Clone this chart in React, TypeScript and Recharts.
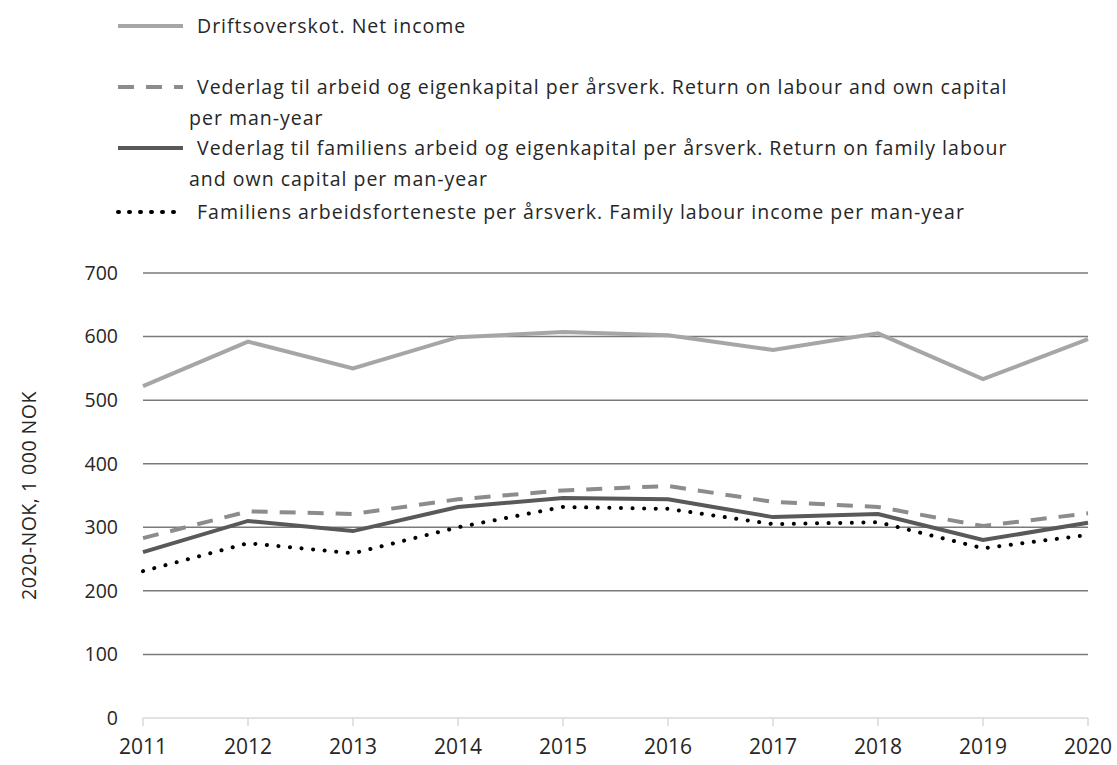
import { LineChart, Line, XAxis, YAxis, CartesianGrid, Label } from "recharts";

const years = ["2011", "2012", "2013", "2014", "2015", "2016", "2017", "2018", "2019", "2020"];
const netIncome = [522, 592, 550, 599, 607, 602, 579, 605, 533, 596];
const returnLabourCapital = [283, 325, 321, 344, 358, 365, 340, 332, 302, 322];
const returnFamilyLabour = [261, 310, 294, 332, 346, 344, 316, 321, 280, 307];
const familyLabourIncome = [231, 275, 259, 300, 332, 329, 305, 308, 267, 288];
const yTicks = [0, 100, 200, 300, 400, 500, 600, 700];

const data = years.map((year, i) => ({
  year,
  net: netIncome[i],
  ret: returnLabourCapital[i],
  fam: returnFamilyLabour[i],
  inc: familyLabourIncome[i],
}));

const FONT = "'Open Sans', sans-serif";
const TEXT = "#262626";

function LegendRow({ top, dash, color, children }: { top: number; dash?: string; color: string; children: React.ReactNode }) {
  return (
    <div style={{ position: "absolute", left: 115, top, display: "flex", alignItems: "flex-start" }}>
      <svg width={72} height={24} style={{ flex: "none" }}>
        <line x1={3} y1={12} x2={68} y2={12} stroke={color} strokeWidth={4}
          strokeDasharray={dash} strokeLinecap={dash === "1 10" ? "round" : "butt"} />
      </svg>
      <div style={{ marginLeft: 10, lineHeight: "31px", marginTop: -4, whiteSpace: "nowrap" }}>{children}</div>
    </div>
  );
}

export default function App() {
  return (
    <div style={{ position: "absolute", left: 0, top: 0, width: 1117, height: 765, background: "#fff", fontFamily: FONT, fontSize: 19.5, letterSpacing: 1, color: TEXT }}>
      <LegendRow top={14} color="#a6a6a6">Driftsoverskot. Net income</LegendRow>
      <LegendRow top={75} color="#8c8c8c" dash="16 12">
        Vederlag til arbeid og eigenkapital per årsverk. Return on labour and own capital<br />
        <span style={{ marginLeft: -8 }}>per man-year</span>
      </LegendRow>
      <LegendRow top={136} color="#595959">
        Vederlag til familiens arbeid og eigenkapital per årsverk. Return on family labour<br />
        <span style={{ marginLeft: -8 }}>and own capital per man-year</span>
      </LegendRow>
      <LegendRow top={200} color="#000" dash="1 10">
        Familiens arbeidsforteneste per årsverk. Family labour income per man-year
      </LegendRow>

      <div style={{ position: "absolute", left: 0, top: 0, letterSpacing: 0 }}>
        <LineChart width={1117} height={765} data={data} margin={{ top: 273, right: 29, bottom: 17, left: 83 }}>
          <CartesianGrid vertical={false} stroke="#7a7a7a" strokeWidth={1.5} horizontalValues={yTicks.slice(1)} />
          <XAxis dataKey="year" stroke="#d9d9d9" strokeWidth={1.5} tickSize={8} height={30}
            tick={{ fill: TEXT, fontSize: 21, fontFamily: FONT, dy: 11 }} interval={0} />
          <YAxis domain={[0, 700]} ticks={yTicks} width={60} axisLine={false} tickLine={false}
            tick={{ fill: TEXT, fontSize: 19.5, fontFamily: FONT, dx: -17 }}>
            <Label value="2020-NOK, 1 000 NOK" angle={-90} position="insideLeft" offset={-54}
              style={{ fill: TEXT, fontSize: 19.5, fontFamily: FONT, letterSpacing: 0.5, textAnchor: "middle" }} />
          </YAxis>
          <Line dataKey="net" stroke="#a6a6a6" strokeWidth={4} dot={false} isAnimationActive={false} />
          <Line dataKey="ret" stroke="#8c8c8c" strokeWidth={4} strokeDasharray="16 12" dot={false} isAnimationActive={false} />
          <Line dataKey="fam" stroke="#595959" strokeWidth={4} dot={false} isAnimationActive={false} />
          <Line dataKey="inc" stroke="#000" strokeWidth={4} strokeDasharray="0.1 11.5" strokeLinecap="round" dot={false} isAnimationActive={false} />
        </LineChart>
      </div>
    </div>
  );
}
